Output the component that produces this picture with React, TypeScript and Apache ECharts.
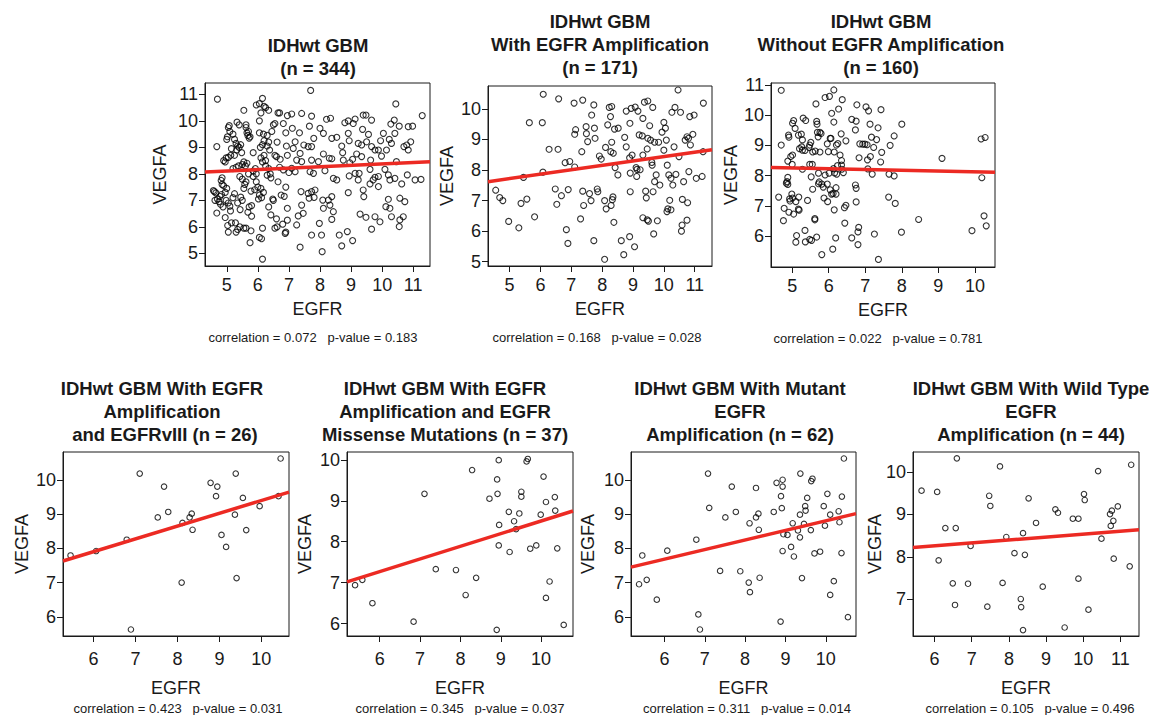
import React, { useEffect, useRef } from "react";
import * as echarts from "echarts";

// ---------- data (EGFR, VEGFA) ----------
const p1: number[][] = [
  [4.70,10.82],[4.68,9.03],[4.57,7.37],[4.60,7.33],[4.65,7.28],[4.62,7.0],[4.70,7.05],[4.75,6.95],[4.68,6.52],[4.80,6.85],
  [4.88,6.75],[4.78,7.15],[4.83,7.22],[4.85,7.6],[4.82,7.75],[4.85,7.85],[4.90,7.55],[4.95,7.3],[4.98,7.0],[5.05,6.9],
  [5.10,6.78],[5.12,6.6],[4.95,6.35],[5.03,6.05],[5.15,6.15],[5.05,5.8],[5.30,5.8],[5.35,5.9],[5.28,6.15],[5.42,6.0],
  [5.43,6.65],[5.35,6.9],[5.50,7.0],[5.45,7.12],[5.2,7.1],[5.25,7.25],[5.55,7.45],[5.0,7.45],
  [4.9,8.5],[4.95,8.45],[5.05,8.62],[5.13,8.7],[4.98,8.6],[5.0,9.3],[5.02,9.4],[5.05,9.75],[5.08,9.82],[5.1,9.6],
  [5.2,9.5],[5.25,9.3],[5.3,9.15],[5.35,9.05],[5.32,8.9],[5.15,8.95],[5.25,8.7],[5.2,8.2],[5.3,8.25],[5.4,9.0],
  [5.45,9.1],[5.48,8.8],[5.38,8.3],[5.5,8.35],[5.55,8.45],[5.6,8.3],[5.65,8.4],[5.7,8.0],[5.42,7.9],[5.5,7.8],
  [5.58,7.6],[5.62,7.7],[5.62,9.75],[5.62,9.85],[5.65,9.55],[5.68,9.45],[5.7,9.6],[5.75,9.4],[5.72,9.35],[5.55,10.4],
  [5.33,9.95],[5.4,9.85],[5.85,8.8],[5.92,8.2],[5.85,8.1],[5.95,8.0],[5.85,7.9],[5.95,7.7],[6.0,7.5],[6.05,7.2],
  [5.9,7.4],[5.78,7.35],[5.8,6.8],[5.72,6.75],[5.68,6.55],[5.8,6.4],[5.55,5.95],[5.62,5.95],[5.75,5.4],[5.78,5.85],
  [6.05,5.6],[6.15,5.95],[6.12,5.55],[6.15,4.78],[6.02,7.05],[6.1,7.45],[6.12,7.1],[6.18,7.3],[6.1,8.6],[6.15,8.45],
  [6.2,8.7],[6.25,8.5],[6.08,9.0],[6.15,9.1],[6.2,9.25],[6.18,9.5],[6.05,9.55],[6.05,10.0],[6.1,10.3],[6.2,10.55],
  [5.95,10.6],[6.05,10.65],[6.15,10.85],[6.25,10.5],[6.35,10.4],[6.3,9.45],[6.35,9.2],[6.3,9.05],[6.38,8.9],[6.25,8.3],
  [6.35,8.2],[6.4,8.0],[6.3,7.95],[6.42,7.85],[6.48,7.05],[6.5,7.0],[6.35,6.75],[6.42,6.45],[6.6,6.3],[6.62,6.0],
  [6.55,5.95],[6.45,9.6],[6.5,9.85],[6.55,9.9],[6.62,9.2],[6.65,10.3],[6.7,10.3],[6.55,8.7],[6.6,8.65],[6.72,8.55],
  [6.7,8.25],[6.82,8.15],[6.65,7.7],[6.75,7.2],[6.85,7.15],[6.8,6.1],[6.9,5.8],[6.88,5.75],[6.95,6.25],[6.95,6.7],
  [6.95,8.7],[6.92,9.05],[6.9,9.55],[6.82,9.9],[6.95,10.2],[6.9,7.5],[7.0,8.05],
  [7.7,11.15],[10.44,10.64],[7.09,10.26],[7.41,10.28],[7.73,10.18],[8.21,10.06],[8.34,10.1],[8.8,9.93],[8.91,10.0],[9.07,9.9],
  [9.13,10.07],[9.39,10.22],[9.48,10.22],[9.66,10.03],[10.28,9.88],[10.39,10.03],[10.55,9.8],[10.84,9.78],[10.98,9.8],[11.29,10.2],
  [7.11,9.72],[7.34,9.55],[7.66,9.8],[8.0,9.72],[8.11,9.53],[8.38,9.34],[8.54,9.38],[8.7,9.05],[8.91,9.53],[8.94,9.25],
  [9.23,9.15],[9.34,9.09],[9.37,9.68],[9.5,9.21],[9.56,9.49],[9.66,9.03],[9.77,8.9],[9.88,8.9],[9.95,9.25],[10.04,9.53],
  [10.23,9.3],[10.3,9.15],[10.41,9.53],[10.7,9.03],[10.79,9.09],[10.92,9.21],[10.84,8.9],[10.46,8.46],
  [7.2,9.21],[7.14,8.96],[7.48,9.09],[7.36,8.77],[7.62,9.03],[7.73,9.03],[7.8,9.34],[7.25,8.52],[7.41,8.46],[7.73,8.52],
  [7.95,8.46],[8.11,8.75],[8.3,8.59],[8.38,8.57],[8.75,8.52],[8.73,8.8],[8.96,8.42],[9.05,8.55],[9.18,8.75],[9.34,8.65],
  [9.63,8.52],[9.98,8.67],[10.14,8.9],
  [7.09,8.21],[7.2,8.08],[7.68,8.08],[7.79,8.02],[8.16,8.12],[8.43,7.83],[8.54,7.77],[8.94,7.92],[9.13,8.02],[9.23,7.77],
  [9.26,8.02],[9.61,8.17],[9.71,7.77],[9.77,7.87],[9.88,7.9],[10.09,8.17],[10.2,7.96],[10.25,7.77],[10.41,7.83],[10.63,7.62],
  [10.81,7.96],[11.06,7.77],[11.25,7.79],
  [7.39,7.33],[7.62,7.26],[7.73,7.33],[7.84,7.39],[7.41,6.82],[7.65,7.08],[7.81,7.11],[8.09,7.01],[8.27,7.01],[8.38,7.14],
  [8.32,6.82],[8.11,6.7],[8.43,6.57],[8.91,7.29],[9.39,7.39],[9.41,7.14],[9.61,7.62],[9.88,7.52],[10.2,7.04],[10.12,6.76],
  [10.25,6.7],[10.57,7.08],[10.73,6.95],
  [7.3,6.41],[7.46,6.51],[7.25,6.07],[7.98,6.13],[8.38,6.28],[9.29,6.48],[9.48,6.36],[9.77,6.38],[9.93,6.19],[10.3,6.38],
  [10.57,6.26],[10.68,6.38],[10.55,6.01],[9.66,5.91],
  [7.73,5.69],[8.05,5.69],[8.62,5.69],[8.88,5.82],[9.05,5.48],[8.7,5.28],[7.36,5.23],[8.07,5.06],
];

const p2: number[][] = [
  [4.55,7.34],[4.68,7.10],[4.78,7.0],[4.97,6.32],[5.30,6.11],[5.37,6.91],[5.56,7.05],[5.45,7.76],[5.64,9.55],[5.81,6.47],
  [6.06,9.55],[6.09,10.48],[6.08,7.93],[6.28,8.68],[6.57,8.68],[6.59,10.33],[6.48,7.38],[6.53,6.88],[6.68,7.16],[6.8,8.24],
  [6.95,8.28],[6.84,6.05],[6.9,7.36],[6.89,5.6],[7.09,10.19],[7.11,8.1],[7.14,9.32],[7.11,9.17],
  [7.37,10.29],[7.73,10.13],[7.66,9.80],[7.48,9.42],[7.49,9.19],[7.53,8.93],[7.75,9.37],[7.77,9.04],[7.34,8.6],[7.91,8.46],
  [7.97,8.36],[8.11,8.74],[8.18,9.48],[8.23,10.05],[8.31,10.08],[8.27,9.75],[8.31,8.91],[8.28,8.6],[8.36,8.55],[8.4,9.34],
  [8.52,9.37],[8.42,8.08],[8.51,7.84],[8.73,9.07],[8.78,9.93],[8.78,8.76],[8.9,9.53],[8.94,10.02],[9.07,10.06],[9.16,9.93],
  [8.97,8.49],[8.89,8.4],[8.91,7.9],[9.1,8.08],[9.12,7.79],[9.23,8.01],[9.2,9.15],[9.3,9.12],[9.32,9.69],[9.37,10.22],
  [9.48,10.26],[9.64,10.05],[9.54,9.45],[9.48,9.04],[9.57,8.98],[9.7,8.91],[9.46,8.69],[9.32,8.49],[9.61,8.25],[9.83,8.91],
  [10.0,9.56],[10.05,9.37],[9.94,9.24],[10.08,8.98],[10.26,9.89],[10.36,10.05],[10.46,10.62],[10.54,9.89],[10.84,9.75],[10.98,9.8],
  [10.69,8.98],[10.75,9.09],[10.8,9.04],[10.86,8.82],[10.94,9.17],[10.33,8.76],[10.0,8.65],[10.49,8.44],[11.28,10.19],[11.27,8.6],
  [10.11,8.16],[10.16,7.84],[10.39,7.86],[10.23,7.73],[10.29,7.51],[10.64,7.62],[10.81,7.95],[11.05,7.73],[11.24,7.79],[9.62,8.16],
  [9.75,7.84],[9.7,7.62],[9.65,7.29],[9.87,7.51],[9.41,7.31],[9.43,7.09],[8.91,7.29],[9.13,8.02],[7.37,7.31],[7.59,7.23],
  [7.84,7.38],[7.86,7.29],[7.64,7.0],[8.08,7.0],[8.35,7.12],[8.33,7.03],[8.13,6.73],[8.29,6.84],[7.40,6.84],[7.3,6.4],
  [8.38,6.29],[9.32,6.44],[9.46,6.37],[9.5,6.33],[9.79,6.34],[10.19,7.01],[10.13,6.73],[10.1,6.64],[10.23,6.7],[10.6,7.04],
  [10.77,6.93],[10.75,6.36],[10.59,6.2],[10.57,6.0],[9.67,5.91],[8.89,5.82],[8.62,5.69],[7.73,5.69],[9.05,5.49],[8.7,5.23],
  [8.08,5.08],
];

const p3: number[][] = [
  [4.70,10.82],[5.9,10.58],[6.02,10.62],[6.14,10.83],[6.37,10.51],[5.65,10.37],[6.27,10.2],[6.08,10.06],[6.77,10.34],[7.02,10.27],
  [7.09,10.14],[7.43,10.18],
  [5.04,9.82],[5.01,9.73],[5.3,9.9],[5.37,9.82],[5.67,9.79],[5.68,9.7],[6.14,9.77],[6.63,9.86],[6.75,9.8],[7.13,9.7],
  [7.35,9.58],[8.0,9.7],[5.08,9.56],
  [4.7,9.01],[4.9,9.34],[4.91,9.27],[5.17,9.34],[5.25,9.37],[5.28,9.18],[5.51,9.1],[5.48,9.01],[5.46,8.93],[5.69,9.43],
  [5.76,9.43],[5.71,9.28],[5.79,9.39],[5.96,9.05],[6.04,9.23],[6.06,9.23],[6.34,9.38],[6.47,9.15],[6.21,9.01],[6.25,9.06],
  [6.73,9.51],[7.17,9.27],[7.31,9.19],[7.79,9.31],[7.68,9.0],[6.85,9.05],[6.93,9.04],[6.99,9.04],[7.05,9.02],[7.23,8.93],
  [7.45,8.77],
  [5.2,8.89],[5.26,8.95],[4.96,8.63],[5.01,8.68],[4.88,8.48],[5.0,8.37],[5.28,8.84],[5.35,8.83],[5.56,8.78],[5.63,8.81],
  [5.76,8.78],[5.99,8.79],[6.15,8.78],[6.31,8.68],[6.35,8.5],[6.35,8.35],[6.83,8.59],[7.06,8.52],[7.14,8.63],[7.42,8.45],
  [9.1,8.57],
  [5.28,8.21],[5.52,7.96],[5.48,8.37],[5.55,8.37],[4.88,7.94],[4.86,7.8],[4.84,7.75],[4.88,7.71],[5.72,8.08],[5.74,7.79],
  [5.9,8.02],[6.01,8.08],[6.13,8.23],[6.16,8.09],[6.24,8.33],[6.22,8.05],[6.36,8.21],[6.4,8.1],[7.07,8.22],[7.19,8.05],
  [7.65,8.05],[7.79,7.99],[10.19,7.93],[10.17,9.21],[10.28,9.26],
  [4.63,7.29],[4.78,6.92],[4.91,6.79],[4.93,7.23],[4.99,7.39],[5.01,7.26],[4.94,7.16],[5.1,7.14],[5.17,6.89],[5.18,7.29],
  [5.42,7.18],[5.56,7.55],[5.72,7.73],[5.81,7.72],[5.85,7.62],[5.96,7.72],[6.04,7.53],[6.08,7.39],[5.97,7.14],[5.87,7.26],
  [6.2,7.6],[6.2,7.39],[6.12,7.41],[6.15,6.87],[6.43,6.94],[6.47,7.02],[6.73,7.69],[6.75,7.58],[6.75,7.13],[7.64,7.29],
  [7.82,7.08],
  [4.76,6.51],[5.04,6.73],[5.19,6.86],[5.62,6.58],[5.62,6.54],[6.44,6.43],[6.82,6.29],[6.8,6.14],[7.25,6.07],[7.99,6.13],
  [8.46,6.55],[9.92,6.18],[10.25,6.67],[10.31,6.34],
  [5.12,6.02],[5.1,5.8],[5.35,6.19],[5.36,5.81],[5.48,5.89],[5.53,5.86],[5.67,5.97],[5.81,5.39],[6.11,5.57],[6.19,5.94],
  [6.63,5.94],[6.8,5.72],[7.36,5.23],
];

const p4: number[][] = [
  [5.45,7.79],[6.06,7.92],[6.79,8.25],[6.89,5.63],[7.10,10.18],[7.53,8.90],[7.68,9.80],[7.78,9.06],[8.10,7.00],[8.12,8.74],
  [8.29,8.90],[8.34,9.01],[8.36,8.54],[8.79,9.91],[8.92,9.52],[8.95,9.80],[9.05,8.39],[9.16,8.04],[9.37,8.98],[9.39,10.18],
  [9.41,7.13],[9.56,9.47],[9.64,8.53],[9.96,9.23],[10.41,9.52],[10.46,10.62],
];

const p5: number[][] = [
  [5.39,6.94],[5.57,7.07],[5.82,6.50],[6.84,6.05],[7.11,9.17],[7.39,7.33],[7.89,7.31],[8.13,6.70],[8.29,9.75],[8.39,7.12],
  [8.72,9.05],[8.90,5.85],[8.91,9.52],[8.92,9.17],[8.95,9.99],[8.96,8.41],[8.95,7.91],[9.20,8.73],[9.22,7.75],[9.33,8.50],
  [9.38,8.31],[9.46,8.69],[9.51,9.22],[9.51,9.10],[9.64,9.96],[9.67,10.02],[9.73,7.83],[9.88,7.91],[9.99,8.66],[10.06,9.59],
  [10.12,8.97],[10.12,6.63],[10.21,7.03],[10.34,9.09],[10.35,8.76],[10.40,7.84],[10.56,5.97],
];

const p6: number[][] = [
  [5.37,6.95],[5.45,7.79],[5.56,7.08],[5.81,6.50],[6.07,7.93],[6.79,8.25],[6.84,6.07],[6.88,5.63],[7.08,10.18],[7.11,9.18],
  [7.38,7.34],[7.51,8.90],[7.67,9.80],[7.77,9.06],[7.88,7.33],[8.09,7.00],[8.11,8.73],[8.12,6.72],[8.27,9.76],[8.27,8.90],
  [8.33,9.01],[8.34,8.54],[8.36,7.14],[8.71,9.06],[8.78,9.91],[8.88,5.86],[8.89,9.52],[8.91,9.17],[8.93,10.00],[8.93,9.80],
  [8.93,7.92],[8.95,8.41],[9.05,8.39],[9.14,8.04],[9.18,8.73],[9.21,7.76],[9.31,8.52],[9.36,8.32],[9.36,8.98],[9.37,10.18],
  [9.41,7.13],[9.46,8.71],[9.49,9.23],[9.50,9.10],[9.54,9.47],[9.63,8.53],[9.64,9.96],[9.67,10.03],[9.72,7.85],[9.86,7.90],
  [9.95,9.23],[9.98,8.66],[10.04,9.59],[10.11,8.98],[10.11,6.64],[10.20,7.04],[10.32,9.08],[10.34,8.76],[10.39,7.86],[10.40,9.51],
  [10.45,10.62],[10.55,5.99],
];

const p7: number[][] = [
  [5.65,9.56],[6.07,9.53],[6.11,7.92],[6.29,8.68],[6.49,7.38],[6.55,6.87],[6.57,8.68],[6.60,10.32],[6.90,7.37],[6.97,8.26],
  [7.42,6.83],[7.47,9.44],[7.50,9.20],[7.76,10.13],[7.83,7.39],[7.93,8.47],[8.15,8.09],[8.32,7.01],[8.33,6.82],[8.38,8.56],
  [8.38,6.28],[8.43,8.05],[8.53,9.38],[8.73,8.80],[8.91,7.30],[9.25,9.12],[9.32,9.04],[9.50,6.34],[9.72,8.90],[9.87,8.90],
  [9.87,7.49],[10.02,9.48],[10.04,9.34],[10.14,6.76],[10.40,10.02],[10.49,8.43],[10.72,9.01],[10.74,8.73],[10.77,9.09],[10.81,8.85],
  [10.82,7.96],[10.93,9.19],[11.25,7.78],[11.29,10.17],
];

// regression fits: [intercept, slope]
const fits: number[][] = [
  [7.838, 0.0539], [7.004, 0.1433], [8.385, -0.0261],
  [5.665, 0.3729], [5.417, 0.3089], [6.0045, 0.2796], [7.8455, 0.0691],
];

const xTicks: number[][] = [
  [5, 6, 7, 8, 9, 10, 11], [5, 6, 7, 8, 9, 10, 11], [5, 6, 7, 8, 9, 10],
  [6, 7, 8, 9, 10], [6, 7, 8, 9, 10], [6, 7, 8, 9, 10], [6, 7, 8, 9, 10, 11],
];
const yTicks: number[][] = [
  [5, 6, 7, 8, 9, 10, 11], [5, 6, 7, 8, 9, 10], [6, 7, 8, 9, 10, 11],
  [6, 7, 8, 9, 10], [6, 7, 8, 9, 10], [6, 7, 8, 9, 10], [7, 8, 9, 10],
];
const xRanges: number[][] = [
  [4.30, 11.54], [4.30, 11.56], [4.42, 10.55],
  [5.27, 10.66], [5.19, 10.79], [5.17, 10.75], [5.42, 11.50],
];
const yRanges: number[][] = [
  [4.52, 11.43], [4.86, 10.75], [4.98, 11.06],
  [5.44, 10.81], [5.70, 10.19], [5.44, 10.81], [6.14, 10.47],
];

const titles: string[][] = [
  ["IDHwt GBM", "(n = 344)"],
  ["IDHwt GBM", "With EGFR Amplification", "(n = 171)"],
  ["IDHwt GBM", "Without EGFR Amplification", "(n = 160)"],
  ["IDHwt GBM With EGFR", "Amplification", "and EGFRvIII (n = 26)"],
  ["IDHwt GBM With EGFR", "Amplification and EGFR", "Missense Mutations (n = 37)"],
  ["IDHwt GBM With Mutant", "EGFR", "Amplification (n = 62)"],
  ["IDHwt GBM With Wild Type", "EGFR", "Amplification (n = 44)"],
];
const correlations: string[] = ["0.072", "0.168", "0.022", "0.423", "0.345", "0.311", "0.105"];
const pValues: string[] = ["0.183", "0.028", "0.781", "0.031", "0.037", "0.014", "0.496"];
const xName = "EGFR";
const yName = "VEGFA";

const panels = [p1, p2, p3, p4, p5, p6, p7];

// ---------- layout ----------
const gridBoxes = [
  { left: 205, top: 83, width: 225, height: 183 },
  { left: 488, top: 86, width: 224, height: 180 },
  { left: 771, top: 83, width: 224, height: 184 },
  { left: 63, top: 452, width: 226, height: 184 },
  { left: 347, top: 452, width: 226, height: 184 },
  { left: 631, top: 452, width: 225, height: 184 },
  { left: 913, top: 452, width: 226, height: 184 },
];
const titleCenters = [318, 600, 881, 162, 445, 740, 1031];
const titleLineY = [[45, 68], [21, 44, 67], [21, 44, 67], [388, 411, 434], [388, 411, 434], [388, 411, 434], [388, 411, 434]];
const yNameX = [160, 447, 731, 22, 305, 588, 875];
const corrCenters = [313, 597, 878, 178, 460, 747, 1030];

const FONT = "'Liberation Sans', Arial, Helvetica, sans-serif";
const RED = "#ec2a23";
const INK = "#1a1a1a";

export default function App() {
  const ref = useRef<HTMLDivElement>(null);

  useEffect(() => {
    if (!ref.current) return;
    const chart = echarts.init(ref.current, undefined, { renderer: "svg" });

    const grid: any[] = [];
    const xAxis: any[] = [];
    const yAxis: any[] = [];
    const series: any[] = [];
    const graphic: any[] = [];

    panels.forEach((pts, i) => {
      const g = gridBoxes[i];
      const bottomRow = i >= 3;
      grid.push({ ...g, show: true, borderColor: INK, borderWidth: 1, backgroundColor: "transparent" });
      xAxis.push({
        type: "value", gridIndex: i, min: xRanges[i][0], max: xRanges[i][1],
        splitLine: { show: false },
        axisLine: { show: true, onZero: false, lineStyle: { color: INK, width: 1 } },
        axisTick: { show: true, length: 6, lineStyle: { color: INK, width: 1 }, customValues: xTicks[i] },
        axisLabel: { customValues: xTicks[i], fontSize: 18, color: INK, fontFamily: FONT, margin: bottomRow ? 14 : 10 },
      });
      yAxis.push({
        type: "value", gridIndex: i, min: yRanges[i][0], max: yRanges[i][1],
        splitLine: { show: false },
        axisLine: { show: true, onZero: false, lineStyle: { color: INK, width: 1 } },
        axisTick: { show: true, length: 6, lineStyle: { color: INK, width: 1 }, customValues: yTicks[i] },
        axisLabel: { customValues: yTicks[i], fontSize: 18, color: INK, fontFamily: FONT, margin: 7 },
      });
      series.push({
        type: "scatter", xAxisIndex: i, yAxisIndex: i, data: pts,
        symbol: "circle", symbolSize: bottomRow ? 5.5 : 6, silent: true,
        itemStyle: { color: "rgba(0,0,0,0)", borderColor: "#000", borderWidth: 1.1 },
        z: 2,
      });
      const [a, b] = fits[i];
      const x0 = xRanges[i][0];
      const x1 = xRanges[i][1];
      series.push({
        type: "line", xAxisIndex: i, yAxisIndex: i,
        data: [[x0, a + b * x0], [x1, a + b * x1]],
        symbol: "none", silent: true, clip: true,
        lineStyle: { color: RED, width: 3.5 },
        z: 3,
      });

      // titles
      titles[i].forEach((line, k) => {
        graphic.push({
          type: "text", x: titleCenters[i] + (i === 3 && k === 2 ? 3 : 0), y: titleLineY[i][k],
          style: { text: line, textAlign: "center", textVerticalAlign: "middle", font: `bold 18.5px ${FONT}`, fill: INK },
        });
      });
      // x name
      const cx = g.left + g.width / 2;
      const boxBottom = g.top + g.height;
      graphic.push({
        type: "text", x: cx, y: boxBottom + (bottomRow ? 52 : 43),
        style: { text: xName, textAlign: "center", textVerticalAlign: "middle", font: `18px ${FONT}`, fill: INK },
      });
      // y name
      graphic.push({
        type: "text", x: yNameX[i], y: g.top + g.height / 2, rotation: Math.PI / 2,
        style: { text: yName, textAlign: "center", textVerticalAlign: "middle", font: `18px ${FONT}`, fill: INK },
      });
      // correlation
      graphic.push({
        type: "text", x: corrCenters[i], y: boxBottom + (bottomRow ? 72 : 71),
        style: {
          text: `correlation = ${correlations[i]}\u00a0\u00a0\u00a0p-value = ${pValues[i]}`,
          textAlign: "center", textVerticalAlign: "middle", font: `13px ${FONT}`, fill: INK,
        },
      });
    });

    chart.setOption({
      animation: false,
      backgroundColor: "#ffffff",
      grid, xAxis, yAxis, series, graphic,
    });

    return () => chart.dispose();
  }, []);

  return <div ref={ref} style={{ position: "absolute", left: 0, top: 0, width: 1149, height: 715 }} />;
}
